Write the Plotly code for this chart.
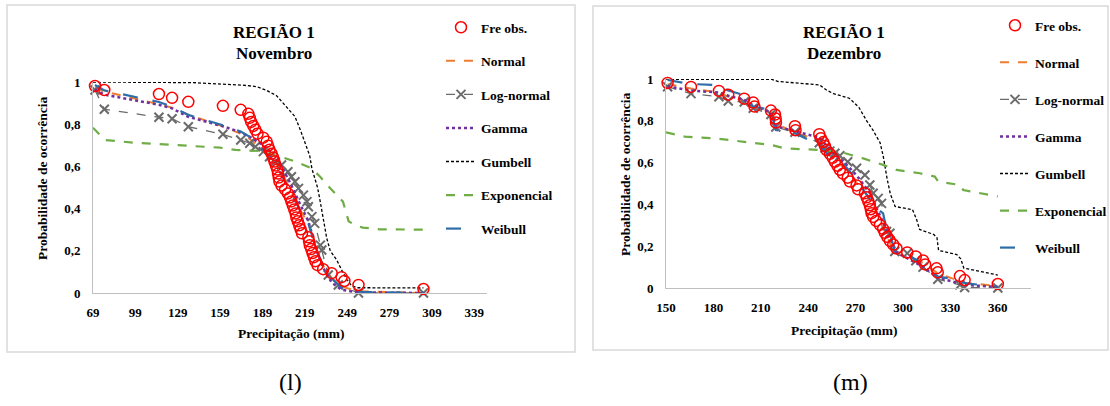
import plotly.graph_objects as go

W, H = 1110, 406


def px(x):
    return x / W


def py(y):
    return 1 - y / H


# ---------------- Novembro ----------------
nov_obs_x = [70.4, 77, 115.7, 125, 136.5, 161, 173.6, 179, 180, 181, 182.5, 184, 185.5,
             189.6, 192, 193, 194, 195.5, 196.5, 197.5, 198.5, 199.5, 200, 200.5, 201,
             202.5, 205, 207, 208.5, 209.5, 210.5, 211.5, 212.5, 213, 214, 215, 216, 217,
             221.5, 222, 222.5, 223.5, 224.5, 225.5, 226.5, 228, 232, 238, 245, 247, 257, 303]
nov_obs_p = [0.981, 0.962, 0.943, 0.925, 0.906, 0.887, 0.868, 0.849, 0.830, 0.811, 0.792,
             0.774, 0.755, 0.736, 0.717, 0.698, 0.679, 0.660, 0.642, 0.623, 0.604, 0.585,
             0.566, 0.547, 0.528, 0.509, 0.491, 0.472, 0.453, 0.434, 0.415, 0.396, 0.377,
             0.358, 0.340, 0.321, 0.302, 0.283, 0.264, 0.245, 0.226, 0.208, 0.189, 0.170,
             0.151, 0.132, 0.113, 0.094, 0.075, 0.057, 0.038, 0.019]

nov_fit_x = [70.4, 77, 115.7, 125, 136.5, 161, 173.6, 180, 189.6, 196.5, 202.5, 209.5, 215,
             221.5, 224.5, 228, 232, 238, 245, 257, 303]
nov_normal = [0.975, 0.955, 0.895, 0.878, 0.845, 0.79, 0.755, 0.73, 0.68, 0.635, 0.575, 0.48,
              0.40, 0.33, 0.26, 0.19, 0.13, 0.07, 0.03, 0.008, 0.0]
nov_gamma = [0.965, 0.94, 0.892, 0.875, 0.835, 0.79, 0.762, 0.74, 0.70, 0.66, 0.60, 0.51,
             0.43, 0.34, 0.27, 0.19, 0.12, 0.05, 0.015, 0.003, 0.0]
nov_weibull = [0.986, 0.96, 0.905, 0.883, 0.844, 0.795, 0.765, 0.74, 0.678, 0.63, 0.56, 0.47,
               0.40, 0.33, 0.26, 0.19, 0.13, 0.07, 0.025, 0.006, 0.0]

nov_lognorm_x = [70.4, 77, 115.7, 125, 136.5, 161, 173.6, 180, 184, 189.6, 194, 198, 202.5,
                 207, 209.5, 212, 214.5, 218, 220.5, 221.5, 224, 226, 230, 231, 235.6, 242.7,
                 257, 303]
nov_lognorm = [0.962, 0.871, 0.833, 0.826, 0.788, 0.752, 0.725, 0.71, 0.693, 0.67, 0.646,
               0.622, 0.607, 0.575, 0.551, 0.527, 0.496, 0.464, 0.433, 0.409, 0.362, 0.33,
               0.227, 0.204, 0.085, 0.038, 0.0, 0.0]

nov_gumbel_x = [69, 110, 140, 160, 175, 185, 192, 199, 206, 212, 216, 220, 222.5, 224, 226,
                228, 230, 232, 234.5, 237, 241.6, 245, 248.7, 252, 256, 303]
nov_gumbel = [1.0, 1.0, 0.997, 0.99, 0.985, 0.978, 0.96, 0.935, 0.88, 0.836, 0.77, 0.70,
              0.65, 0.59, 0.55, 0.50, 0.43, 0.36, 0.26, 0.2, 0.156, 0.11, 0.065, 0.035,
              0.025, 0.024]

nov_expo_x = [69, 77.5, 98.7, 134, 159, 170, 187, 200, 213, 224, 230, 237, 246, 250, 255,
              260, 272, 303]
nov_expo = [0.783, 0.725, 0.712, 0.697, 0.689, 0.678, 0.673, 0.649, 0.622, 0.59, 0.55, 0.496,
            0.433, 0.34, 0.32, 0.31, 0.302, 0.30]

# ---------------- Dezembro ----------------
dez_obs_x = [151, 165.8, 183.5, 189.4, 199.5, 205.2, 206, 216.4, 219, 219.4, 219.6, 231.6,
             232, 247, 248, 249.5, 250.6, 251.6, 253.7, 255.5, 256.9, 258.5, 260, 262, 265,
             266.4, 270.6, 271.6, 275.9, 277, 278, 279, 279.6, 280.1, 281.1, 283, 285.4,
             287.4, 288.5, 290, 291.7, 293.8, 295.9, 302.7, 308.1, 312.7, 314, 321.2, 322,
             336, 339, 360]
dez_obs_p = [0.981, 0.962, 0.943, 0.925, 0.906, 0.887, 0.868, 0.849, 0.830, 0.811, 0.792,
             0.774, 0.755, 0.736, 0.717, 0.698, 0.679, 0.660, 0.642, 0.623, 0.604, 0.585,
             0.566, 0.547, 0.528, 0.509, 0.491, 0.472, 0.453, 0.434, 0.415, 0.396, 0.377,
             0.358, 0.340, 0.321, 0.302, 0.283, 0.264, 0.245, 0.226, 0.208, 0.189, 0.170,
             0.151, 0.132, 0.113, 0.094, 0.075, 0.057, 0.038, 0.019]

dez_fit_x = [151, 165.8, 183.5, 189.4, 199.5, 205.2, 216.4, 219.5, 231.6, 247, 250.6, 256,
             265, 271, 279, 283, 287.5, 292, 296, 303, 313, 322, 339, 360]
dez_gamma = [0.965, 0.945, 0.935, 0.92, 0.90, 0.875, 0.84, 0.775, 0.75, 0.72, 0.69, 0.645,
             0.585, 0.535, 0.455, 0.385, 0.305, 0.235, 0.17, 0.14, 0.10, 0.05, 0.015, 0.005]
dez_normal = [0.975, 0.955, 0.935, 0.915, 0.895, 0.87, 0.83, 0.79, 0.74, 0.71, 0.68, 0.62,
              0.56, 0.50, 0.43, 0.36, 0.28, 0.21, 0.16, 0.15, 0.12, 0.07, 0.025, 0.01]

dez_lognorm_x = [151, 165.8, 183.5, 189.4, 199.5, 205.2, 216.4, 219.5, 231.6, 247, 250.6,
                 253.7, 256.9, 260, 265, 270.6, 275.9, 279, 281.1, 284.3, 286.4, 289.6, 291.7,
                 294.8, 302.7, 308.1, 312.7, 322, 336, 339, 360]
dez_lognorm = [0.963, 0.93, 0.915, 0.895, 0.89, 0.86, 0.83, 0.77, 0.745, 0.695, 0.67, 0.655,
               0.645, 0.633, 0.604, 0.573, 0.541, 0.493, 0.453, 0.429, 0.405, 0.27, 0.262,
               0.175, 0.166, 0.13, 0.10, 0.042, 0.015, 0.002, 0.0]

dez_weibull_x = [151, 165.8, 183.5, 189.4, 199.5, 205.2, 216.4, 219.5, 231.6, 242, 247, 251.6,
                 262, 270.6, 282.2, 287.4, 288.5, 292.8, 294.8, 298, 308.6, 312.8, 322.3,
                 329.6, 340.2, 352.8, 360]
dez_weibull = [0.995, 0.976, 0.971, 0.945, 0.923, 0.868, 0.852, 0.756, 0.74, 0.703, 0.69,
               0.644, 0.597, 0.517, 0.389, 0.357, 0.317, 0.23, 0.174, 0.174, 0.134, 0.102,
               0.054, 0.046, 0.022, 0.014, 0.006]

dez_gumbel_x = [150, 217, 221, 232, 247, 252, 256, 266, 272, 277, 281, 285.5, 287.5, 290, 292,
                295, 306, 308.5, 310.5, 319.5, 321.5, 322.5, 334, 336.5, 338.5, 360]
dez_gumbel = [0.999, 0.998, 0.988, 0.981, 0.972, 0.945, 0.93, 0.908, 0.865, 0.80, 0.755,
              0.695, 0.63, 0.52, 0.45, 0.39, 0.375, 0.33, 0.28, 0.256, 0.24, 0.18, 0.16, 0.14,
              0.095, 0.062]

dez_expo_x = [150, 162, 181, 200, 216.8, 225.3, 248.5, 260, 274.8, 287.4, 295.9, 310.7, 320.1,
              322.3, 336, 338.1, 360]
dez_expo = [0.745, 0.724, 0.716, 0.70, 0.684, 0.668, 0.66, 0.652, 0.62, 0.589, 0.565, 0.549,
            0.533, 0.509, 0.493, 0.469, 0.438]

# ---------------- axes text ----------------
nov_xticks = [69, 99, 129, 159, 189, 219, 249, 279, 309, 339]
dez_xticks = [150, 180, 210, 240, 270, 300, 330, 360]
y_ticks = [0, 0.2, 0.4, 0.6, 0.8, 1]
y_ticktext = ["0", "0,2", "0,4", "0,6", "0,8", "1"]

SERIF = "Liberation Serif"
C_OBS = "#ff0000"
C_NORMAL = "#ed7d31"
C_LOGN = "#6b6b6b"
C_GAMMA = "#7030a0"
C_GUMBEL = "#000000"
C_EXPO = "#70ad47"
C_WEIB = "#2e6da8"

fig = go.Figure()


def add_panel(xa, ya, leg, obs_x, obs_p, normal_x, normal, logn_x, logn, gamma_x, gamma,
              gum_x, gum, expo_x, expo, weib_x, weib):
    common = dict(xaxis=xa, yaxis=ya, legend=leg, cliponaxis=False)
    fig.add_trace(go.Scatter(x=normal_x, y=normal, mode="lines", name="Normal",
                             line=dict(color=C_NORMAL, width=2, dash="dash"),
                             legendgroup=leg + "n", legendrank=2, **common))
    fig.add_trace(go.Scatter(x=logn_x, y=logn, mode="lines+markers", name="Log-normal",
                             line=dict(color=C_LOGN, width=1.3, dash="dash"),
                             marker=dict(symbol="x-thin-open", size=9, color=C_LOGN,
                                         line=dict(color=C_LOGN, width=2)),
                             legendgroup=leg + "l", legendrank=3, **common))
    fig.add_trace(go.Scatter(x=gamma_x, y=gamma, mode="lines", name="Gamma",
                             line=dict(color=C_GAMMA, width=2.5, dash="dot"),
                             legendgroup=leg + "g", legendrank=4, **common))
    fig.add_trace(go.Scatter(x=gum_x, y=gum, mode="lines", name="Gumbell",
                             line=dict(color=C_GUMBEL, width=1.3, dash="3px,2px"),
                             legendgroup=leg + "u", legendrank=5, **common))
    fig.add_trace(go.Scatter(x=expo_x, y=expo, mode="lines", name="Exponencial",
                             line=dict(color=C_EXPO, width=2.2, dash="dash"),
                             legendgroup=leg + "e", legendrank=6, **common))
    fig.add_trace(go.Scatter(x=weib_x, y=weib, mode="lines", name="Weibull",
                             line=dict(color=C_WEIB, width=2.2, dash="longdash"),
                             legendgroup=leg + "w", legendrank=7, **common))
    fig.add_trace(go.Scatter(x=obs_x, y=obs_p, mode="markers", name="Fre obs.",
                             marker=dict(symbol="circle-open", size=11, color=C_OBS,
                                         line=dict(color=C_OBS, width=1.5)),
                             legendgroup=leg + "o", legendrank=1, **common))


add_panel("x", "y", "legend", nov_obs_x, nov_obs_p, nov_fit_x, nov_normal,
          nov_lognorm_x, nov_lognorm, nov_fit_x, nov_gamma, nov_gumbel_x, nov_gumbel,
          nov_expo_x, nov_expo, nov_fit_x, nov_weibull)
add_panel("x2", "y2", "legend2", dez_obs_x, dez_obs_p, dez_fit_x, dez_normal,
          dez_lognorm_x, dez_lognorm, dez_fit_x, dez_gamma, dez_gumbel_x, dez_gumbel,
          dez_expo_x, dez_expo, dez_weibull_x, dez_weibull)

tickfont = dict(family=SERIF, size=13, color="#000000", weight="bold")
axis_common = dict(showline=True, linecolor="#bfbfbf", linewidth=1, showgrid=False,
                   zeroline=False, ticks="", tickfont=tickfont, fixedrange=True,
                   automargin=False)

legend_font = dict(family=SERIF, size=13.5, color="#000000", weight="bold")

fig.update_layout(
    width=W, height=H, autosize=False,
    margin=dict(l=0, r=0, t=0, b=0, pad=0, autoexpand=False),
    paper_bgcolor="white", plot_bgcolor="white",
    font=dict(family=SERIF, color="#000000"),
    xaxis=dict(domain=[px(93), px(487)], range=[69, 348], tickvals=nov_xticks,
               anchor="y", ticklabelstandoff=7, **axis_common),
    yaxis=dict(domain=[py(293), py(82)], range=[0, 1], tickvals=y_ticks,
               ticktext=y_ticktext, anchor="x", ticklabelstandoff=9, **axis_common),
    xaxis2=dict(domain=[px(666), px(1031)], range=[150, 381], tickvals=dez_xticks,
                anchor="y2", ticklabelstandoff=7, **axis_common),
    yaxis2=dict(domain=[py(288), py(79)], range=[0, 1], tickvals=y_ticks,
                ticktext=y_ticktext, anchor="x2", ticklabelstandoff=9, **axis_common),
    legend=dict(x=px(441), y=py(12), xanchor="left", yanchor="top", font=legend_font,
                tracegroupgap=13, bgcolor="rgba(0,0,0,0)", traceorder="grouped"),
    legend2=dict(x=px(995), y=py(10), xanchor="left", yanchor="top", font=legend_font,
                 tracegroupgap=16.5, bgcolor="rgba(0,0,0,0)", traceorder="grouped"),
    showlegend=True,
)

# chart frames
for x0, y0, x1, y1 in [(7, 5, 575, 352), (593, 6, 1108, 350)]:
    fig.add_shape(type="rect", xref="paper", yref="paper",
                  x0=px(x0), x1=px(x1), y0=py(y1), y1=py(y0),
                  line=dict(color="#d9d9d9", width=1.5), fillcolor="rgba(0,0,0,0)")


def text(x, y, s, size=13.5, angle=0, bold=True):
    fig.add_annotation(x=px(x), y=py(y), xref="paper", yref="paper", text=s,
                       showarrow=False, textangle=angle, xanchor="center", yanchor="middle",
                       font=dict(family=SERIF, size=size, color="#000000",
                                 weight="bold" if bold else "normal"))


text(274, 33, "REGIÃO 1", size=17)
text(274, 53, "Novembro", size=17)
text(844, 33, "REGIÃO 1", size=17)
text(844, 53, "Dezembro", size=17)
text(42, 179, "Probabilidade de ocorrência", angle=-90)
text(625, 175, "Probabilidade de ocorrência", angle=-90)
text(291, 333, "Precipitação (mm)")
text(844, 330, "Precipitação (mm)")
text(290, 382, "(l)", size=24, bold=False)
text(850, 382, "(m)", size=24, bold=False)

fig.write_html("out.html")
